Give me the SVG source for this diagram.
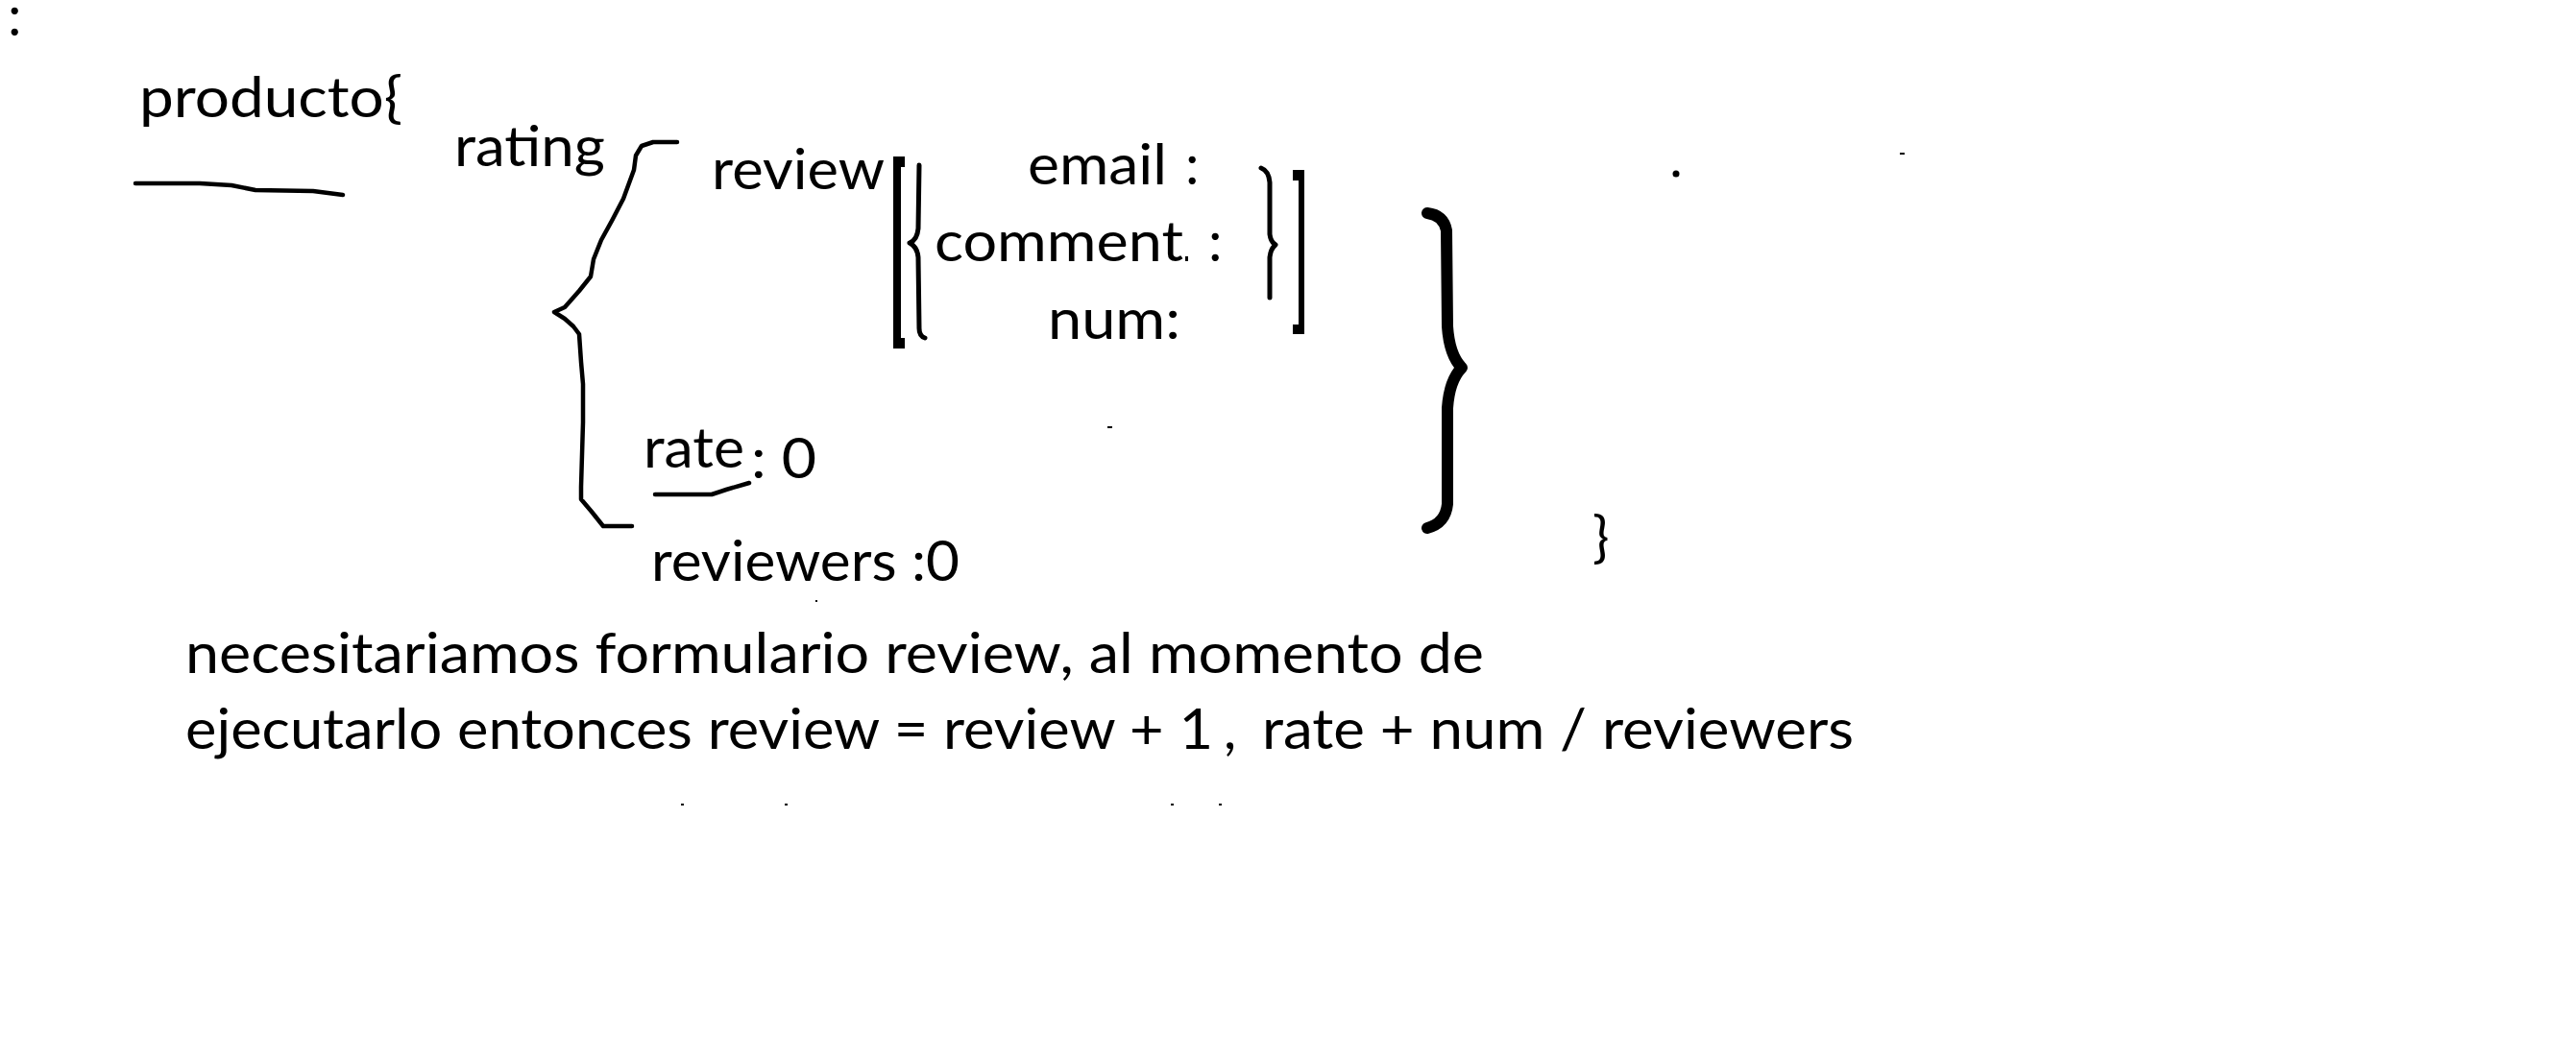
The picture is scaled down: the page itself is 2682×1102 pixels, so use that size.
<svg xmlns="http://www.w3.org/2000/svg" width="2682" height="1102" viewBox="0 0 2682 1102">
<style>
.t{font-family:Lato,"Open Sans","Liberation Sans",sans-serif;font-size:58px;fill:#000}
.s{fill:none;stroke:#000;stroke-linejoin:round;stroke-linecap:round}
.thin{stroke-width:4.5}
.k{fill:#000}
</style>
<rect width="2682" height="1102" fill="#fff"/>
<g id="colon-top"><text class="t" x="8" y="37">:</text></g>
<g id="producto">
<text class="t" x="145" y="122" textLength="274" lengthAdjust="spacingAndGlyphs">producto{</text>
<path class="s thin" d="M141,191 L208,191 L241,193 L266,198 L326,199 L357,203"/>
</g>
<g id="rating">
<text class="t" x="473" y="173" textLength="157" lengthAdjust="spacingAndGlyphs">rating</text>
<path class="s thin" d="M705,148 L680,148 L668,152 L662,162 L660,177 L649,207 L637,230 L626,250 L618,270 L615,288 L603,303 L588,320 L577,325 L588,332 L597,340 L603,348 L605,377 L607,400 L607,440 L605,507 L605,520 L616,533 L628,548 L658,548"/>
</g>
<g id="review">
<text class="t" x="741" y="197" textLength="180" lengthAdjust="spacingAndGlyphs">review</text>
<path class="k" d="M930,163 H942 V174 H938 V352 H942 V363 H930 Z"/>
<path class="s" stroke-width="5" d="M957,172 L956,238 Q955,250 947,253 Q955,257 956,268 L957,342 Q957,350 963,352"/>
<text class="t" x="1070" y="192" textLength="145" lengthAdjust="spacingAndGlyphs">email</text>
<text class="t" x="1234" y="192">:</text>
<text class="t" x="973" y="272" textLength="259" lengthAdjust="spacingAndGlyphs">comment</text>
<rect class="k" x="1234" y="267" width="3" height="5"/>
<text class="t" x="1258" y="272">:</text>
<text class="t" x="1091" y="353" textLength="138" lengthAdjust="spacingAndGlyphs">num:</text>
<path class="s" stroke-width="5" d="M1313,175 Q1321,178 1322,190 L1322,244 Q1323,252 1328,255 Q1323,259 1322,268 L1322,310"/>
<path class="k" d="M1346,177 H1358 V348 H1346 V338 H1352 V188 H1346 Z"/>
</g>
<g id="rate">
<text class="t" x="670" y="487" textLength="105" lengthAdjust="spacingAndGlyphs">rate</text>
<text class="t" x="782" y="498" textLength="68" lengthAdjust="spacingAndGlyphs">: 0</text>
<path class="s thin" d="M682,515 L741,515 L756,510 L780,503"/>
</g>
<g id="reviewers">
<text class="t" x="678" y="605" textLength="321" lengthAdjust="spacingAndGlyphs">reviewers :0</text>
</g>
<g id="big-brace">
<path class="s" stroke-width="12" stroke-linecap="butt" d="M1486,222 Q1503,224 1506,240 L1507,340 Q1509,370 1522,383 Q1509,396 1507,425 L1507,525 Q1505,545 1486,550"/>
</g>
<g id="close-brace"><text class="t" x="1658" y="580">}</text></g>
<g id="note">
<text class="t" x="193" y="701" textLength="1352" lengthAdjust="spacingAndGlyphs">necesitariamos formulario review, al momento de</text>
<text class="t" x="193" y="780" textLength="1070" lengthAdjust="spacingAndGlyphs">ejecutarlo entonces review = review + 1</text>
<text class="t" x="1274" y="780">,</text>
<text class="t" x="1314" y="780" textLength="616" lengthAdjust="spacingAndGlyphs">rate + num / reviewers</text>
</g>
<g id="specks">
<circle class="k" cx="1745" cy="181" r="3.5"/>
<rect class="k" x="1978" y="159" width="5" height="2"/>
<rect class="k" x="1153" y="444" width="5" height="2"/>
<rect class="k" x="849" y="625" width="2" height="2"/>
<rect class="k" x="709" y="837" width="3" height="2"/>
<rect class="k" x="817" y="837" width="3" height="2"/>
<rect class="k" x="1219" y="837" width="3" height="2"/>
<rect class="k" x="1269" y="837" width="3" height="2"/>
</g>
</svg>
